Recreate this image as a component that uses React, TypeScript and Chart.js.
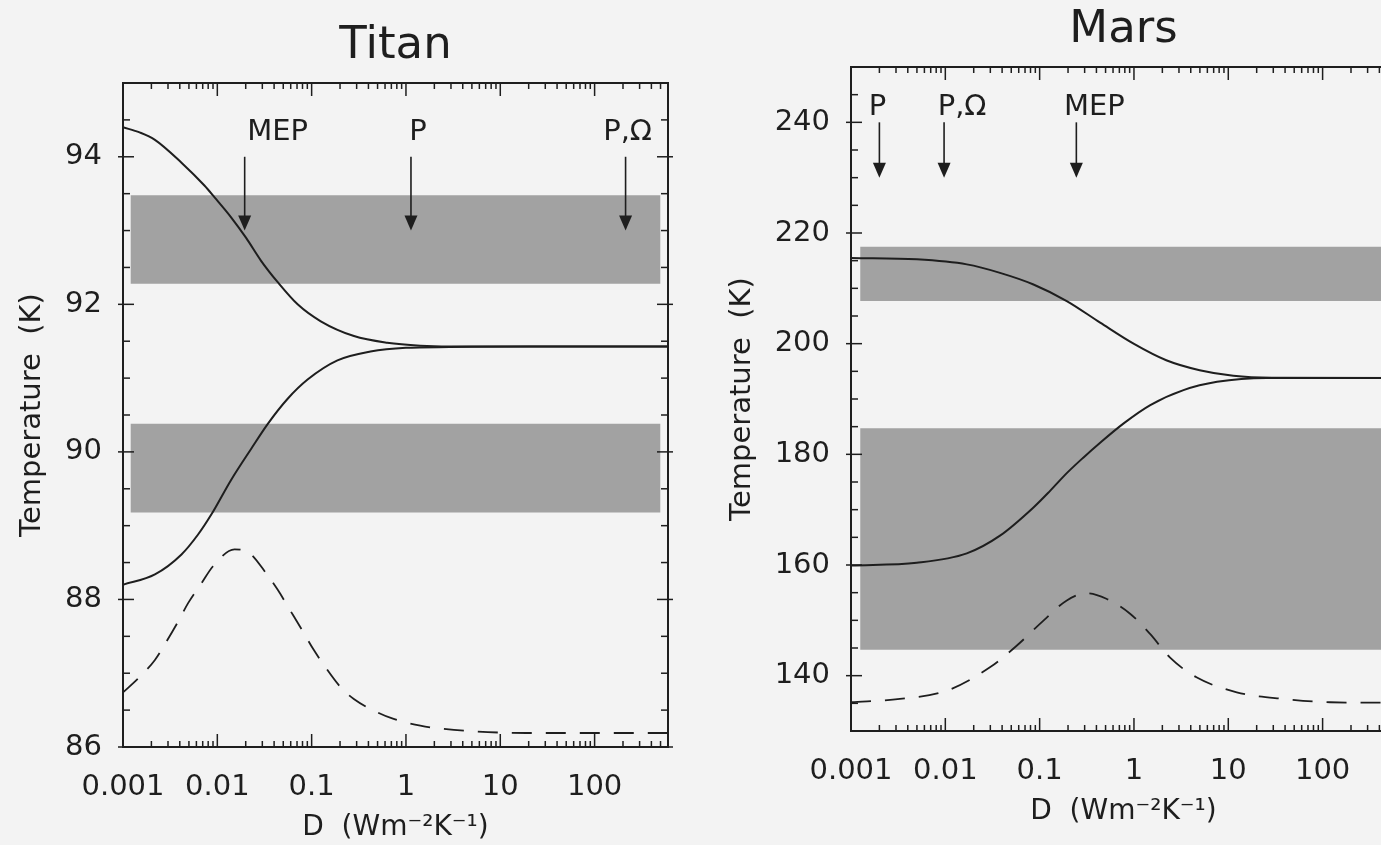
import React, { useEffect, useRef } from "react";
import { Chart, registerables } from "chart.js";

Chart.register(...registerables);

const FONT = "'DejaVu Sans', 'Liberation Sans', sans-serif";
const INK = "#1e1e1e";
const BAND = "#a2a2a2";
const PAPER = "#f3f3f3";

// ---------- shared x axis ----------
const xDecades = [0.001, 0.01, 0.1, 1, 10, 100];
const xDecadeLabels = ["0.001", "0.01", "0.1", "1", "10", "100"];
const xMinorMultipliers = [1, 2, 3, 4, 5, 6, 7, 8, 9];
const xMin = 0.001;
const xMax = 600;

// ---------- Titan ----------
const titanUpperD = [0.001, 0.0015, 0.00218, 0.00417, 0.0073, 0.00935, 0.014, 0.0202, 0.0291, 0.0437, 0.071, 0.125, 0.281, 0.632, 1.42, 2.9, 20, 600];
const titanUpperT = [94.4, 94.33, 94.23, 93.92, 93.61, 93.45, 93.18, 92.9, 92.59, 92.3, 92.0, 91.77, 91.57, 91.48, 91.44, 91.43, 91.43, 91.43];
const titanLowerD = [0.001, 0.00218, 0.00417, 0.00625, 0.00863, 0.014, 0.0228, 0.0343, 0.0557, 0.0906, 0.1877, 0.42, 1.0, 2.9, 20, 600];
const titanLowerT = [88.2, 88.34, 88.61, 88.88, 89.15, 89.62, 90.04, 90.38, 90.72, 90.98, 91.24, 91.36, 91.41, 91.42, 91.43, 91.43];
const titanDashD = [0.001, 0.00145, 0.00218, 0.0028, 0.00384, 0.0049, 0.0068, 0.009, 0.0152, 0.0219, 0.0327, 0.0437, 0.06, 0.0771, 0.106, 0.135, 0.203, 0.28, 0.497, 0.74, 1.42, 2.3, 19, 600];
const titanDashT = [86.74, 86.93, 87.18, 87.4, 87.7, 87.95, 88.22, 88.45, 88.68, 88.63, 88.36, 88.13, 87.84, 87.61, 87.31, 87.11, 86.81, 86.65, 86.47, 86.38, 86.29, 86.25, 86.19, 86.19];
const titanBandD = [0.0012, 500];
const titanBandUpper = [92.28, 93.48];
const titanBandLower = [89.18, 90.38];
const titanYLabels = [86, 88, 90, 92, 94];
const titanArrowD = [0.0195, 1.13, 213];
const titanArrowText = ["MEP", "P", "P,\u03A9"];
const titanArrowFrom = 94.0;
const titanArrowTo = 93.0;
const titanLabelT = 94.33;

// ---------- Mars ----------
const marsUpperD = [0.001, 0.00498, 0.0169, 0.038, 0.086, 0.194, 0.438, 0.99, 2.2, 4.97, 11.3, 29, 600];
const marsUpperT = [215.5, 215.24, 214.33, 212.8, 210.7, 207.7, 203.8, 200.0, 197.0, 195.2, 194.2, 193.85, 193.8];
const marsLowerD = [0.001, 0.00498, 0.0169, 0.038, 0.086, 0.129, 0.194, 0.29, 0.438, 0.778, 1.49, 3.35, 7.6, 25.5, 600];
const marsLowerT = [159.9, 160.4, 162.1, 165.3, 170.4, 173.4, 176.6, 179.4, 182.1, 185.6, 188.9, 191.6, 193.1, 193.8, 193.8];
const marsDashD = [0.001, 0.0033, 0.0104, 0.0297, 0.057, 0.109, 0.194, 0.316, 0.51, 0.91, 1.49, 2.4, 4.6, 12.3, 38.6, 120, 600];
const marsDashT = [135.2, 135.8, 137.3, 141.5, 145.4, 149.9, 153.6, 154.9, 153.9, 151.2, 147.5, 143.3, 139.7, 137.0, 135.8, 135.2, 135.1];
const marsBandD = [0.00125, 500];
const marsBandUpper = [207.7, 217.5];
const marsBandLower = [144.7, 184.7];
const marsYLabels = [140, 160, 180, 200, 220, 240];
const marsArrowD = [0.002, 0.0097, 0.245];
const marsArrowText = ["P", "P,\u03A9", "MEP"];
const marsArrowFrom = 240;
const marsArrowTo = 230;
const marsLabelT = 242.7;

// ---------- helpers ----------
const pts = (xs: number[], ys: number[]) => xs.map((x, i) => ({ x, y: ys[i] }));
const flat = (xs: number[], v: number) => xs.map((x) => ({ x, y: v }));
const isDecade = (v: number) => Math.abs(Math.log10(v) - Math.round(Math.log10(v))) < 1e-6;

const xTickValues: number[] = [];
xDecades.forEach((d) => xMinorMultipliers.forEach((m) => {
  const v = +(d * m).toPrecision(6);
  if (v <= xMax) xTickValues.push(v);
}));

const decorPlugin = {
  id: "panelDecor",
  afterDraw(chart: any, _args: any, opts: any) {
    const { ctx, chartArea: a, scales } = chart;
    const x = scales.x;
    const y = scales.y;
    const line = (x1: number, y1: number, x2: number, y2: number) => {
      ctx.beginPath();
      ctx.moveTo(x1, y1);
      ctx.lineTo(x2, y2);
      ctx.stroke();
    };
    ctx.save();
    ctx.strokeStyle = INK;
    ctx.fillStyle = INK;
    ctx.lineWidth = 1.5;
    x.ticks.forEach((t: any) => {
      const px = x.getPixelForValue(t.value);
      if (px < a.left - 0.5 || px > a.right + 0.5) return;
      const len = isDecade(t.value) ? 13 : 6;
      line(px, a.bottom, px, a.bottom - len);
      line(px, a.top, px, a.top + len);
    });
    y.ticks.forEach((t: any) => {
      const py = y.getPixelForValue(t.value);
      const major = opts.yMajor.includes(t.value);
      const len = major ? 11 : 7;
      const out = major ? 5 : 0;
      line(a.left - out, py, a.left + len, py);
      line(a.right - len, py, a.right + out, py);
    });
    ctx.lineWidth = 2;
    ctx.strokeRect(a.left, a.top, a.right - a.left, a.bottom - a.top);

    // panel title, centred over the plot area
    ctx.font = `45px ${FONT}`;
    ctx.textAlign = "center";
    ctx.textBaseline = "middle";
    ctx.fillText(opts.title, (a.left + a.right) / 2, a.top - 37);

    // arrows with labels
    ctx.lineWidth = 1.6;
    ctx.font = `29px ${FONT}`;
    const y0 = y.getPixelForValue(opts.arrowFrom);
    const y1 = y.getPixelForValue(opts.arrowTo);
    const ly = y.getPixelForValue(opts.labelT);
    opts.arrowD.forEach((d: number, i: number) => {
      const px = x.getPixelForValue(d);
      line(px, y0, px, y1 - 12);
      ctx.beginPath();
      ctx.moveTo(px - 6.5, y1 - 15);
      ctx.lineTo(px + 6.5, y1 - 15);
      ctx.lineTo(px, y1);
      ctx.closePath();
      ctx.fill();
      ctx.fillText(opts.arrowText[i], px + opts.labelDx[i], ly);
    });
    ctx.restore();
  },
};

type Panel = {
  title: string;
  left: number;
  top: number;
  width: number;
  yAxisWidth: number;
  rightPad: number;
  yMin: number;
  yMax: number;
  yStep: number;
  yLabels: number[];
  upper: { x: number; y: number }[];
  lower: { x: number; y: number }[];
  dash: { x: number; y: number }[];
  bandD: number[];
  bandUpper: number[];
  bandLower: number[];
  arrowD: number[];
  arrowText: string[];
  arrowFrom: number;
  arrowTo: number;
  labelT: number;
  labelDx: number[];
};

const panels: Panel[] = [
  {
    title: "Mars",
    left: 710,
    top: -16,
    width: 720,
    yAxisWidth: 141,
    rightPad: 34,
    yMin: 130,
    yMax: 250,
    yStep: 5,
    yLabels: marsYLabels,
    upper: pts(marsUpperD, marsUpperT),
    lower: pts(marsLowerD, marsLowerT),
    dash: pts(marsDashD, marsDashT),
    bandD: marsBandD,
    bandUpper: marsBandUpper,
    bandLower: marsBandLower,
    arrowD: marsArrowD,
    arrowText: marsArrowText,
    arrowFrom: marsArrowFrom,
    arrowTo: marsArrowTo,
    labelT: marsLabelT,
    labelDx: [-2, 18, 18],
  },
  {
    title: "Titan",
    left: 0,
    top: 0,
    width: 700,
    yAxisWidth: 123,
    rightPad: 32,
    yMin: 86,
    yMax: 95,
    yStep: 0.5,
    yLabels: titanYLabels,
    upper: pts(titanUpperD, titanUpperT),
    lower: pts(titanLowerD, titanLowerT),
    dash: pts(titanDashD, titanDashT),
    bandD: titanBandD,
    bandUpper: titanBandUpper,
    bandLower: titanBandLower,
    arrowD: titanArrowD,
    arrowText: titanArrowText,
    arrowFrom: titanArrowFrom,
    arrowTo: titanArrowTo,
    labelT: titanLabelT,
    labelDx: [33, 7, 2],
  },
];

function PanelChart({ p }: { p: Panel }) {
  const ref = useRef<HTMLCanvasElement | null>(null);
  useEffect(() => {
    if (!ref.current) return;
    const curve = (data: any[], dashed: boolean) => ({
      data,
      borderColor: INK,
      borderWidth: dashed ? 1.8 : 2,
      borderDash: dashed ? [20, 14] : [],
      pointRadius: 0,
      fill: false,
      cubicInterpolationMode: "monotone",
      order: 0,
    });
    const band = (data: any[], fill: any) => ({
      data,
      borderWidth: 0,
      borderColor: "rgba(0,0,0,0)",
      backgroundColor: BAND,
      pointRadius: 0,
      fill,
      order: 5,
    });
    const chart = new Chart(ref.current, {
      type: "line",
      data: {
        datasets: [
          curve(p.upper, false),
          curve(p.lower, false),
          curve(p.dash, true),
          band(flat(p.bandD, p.bandUpper[1]), "+1"),
          band(flat(p.bandD, p.bandUpper[0]), false),
          band(flat(p.bandD, p.bandLower[1]), "+1"),
          band(flat(p.bandD, p.bandLower[0]), false),
        ] as any,
      },
      options: {
        animation: false,
        responsive: false,
        devicePixelRatio: 1,
        layout: { padding: { left: 0, right: p.rightPad, top: 83, bottom: 0 } },
        plugins: {
          legend: { display: false },
          tooltip: { enabled: false },
          title: { display: false },
          panelDecor: {
            title: p.title,
            yMajor: p.yLabels,
            arrowD: p.arrowD,
            arrowText: p.arrowText,
            arrowFrom: p.arrowFrom,
            arrowTo: p.arrowTo,
            labelT: p.labelT,
            labelDx: p.labelDx,
          },
        } as any,
        scales: {
          x: {
            type: "logarithmic",
            min: xMin,
            max: xMax,
            grid: { display: false },
            border: { display: false },
            afterBuildTicks: (s: any) => {
              s.ticks = xTickValues.map((v) => ({ value: v }));
            },
            afterFit: (s: any) => {
              s.height = 98;
            },
            ticks: {
              autoSkip: false,
              maxRotation: 0,
              minRotation: 0,
              padding: 15,
              color: INK,
              font: { family: FONT, size: 29 },
              callback: (v: any) => {
                const i = xDecades.findIndex((d) => Math.abs(d - Number(v)) < d * 1e-6);
                return i >= 0 ? xDecadeLabels[i] : "";
              },
            },
            title: {
              display: true,
              text: "D  (Wm\u207B\u00B2K\u207B\u00B9)",
              color: INK,
              font: { family: FONT, size: 28 },
              padding: { top: 0, bottom: 0 },
            },
          },
          y: {
            type: "linear",
            min: p.yMin,
            max: p.yMax,
            grid: { display: false },
            border: { display: false },
            afterFit: (s: any) => {
              s.width = p.yAxisWidth;
            },
            ticks: {
              autoSkip: false,
              stepSize: p.yStep,
              padding: 13,
              color: INK,
              font: { family: FONT, size: 29 },
              callback: (v: any) => (p.yLabels.includes(Number(v)) ? String(v) : ""),
            },
            title: {
              display: true,
              text: "Temperature  (K)",
              color: INK,
              font: { family: FONT, size: 29 },
              padding: { top: 15, bottom: 0 },
            },
          },
        },
      } as any,
      plugins: [decorPlugin],
    });
    return () => chart.destroy();
  }, [p]);
  return (
    <canvas
      ref={ref}
      width={p.width}
      height={845}
      style={{ position: "absolute", left: p.left, top: p.top, width: p.width, height: 845 }}
    />
  );
}

export default function App() {
  return (
    <div
      style={{
        position: "fixed",
        left: 0,
        top: 0,
        width: 1381,
        height: 845,
        overflow: "hidden",
        background: PAPER,
      }}
    >
      {panels.map((p) => (
        <PanelChart key={p.title} p={p} />
      ))}
    </div>
  );
}
